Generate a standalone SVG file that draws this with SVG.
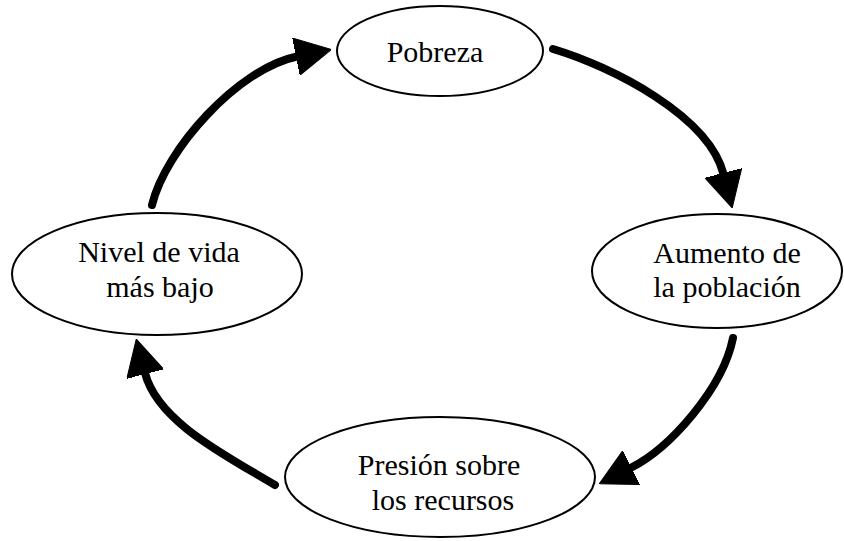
<svg xmlns="http://www.w3.org/2000/svg" width="844" height="541" viewBox="0 0 844 541">
<style>
.node{fill:#fff;stroke:#000;stroke-width:2}
.lbl{font-family:"Liberation Serif","Times New Roman",serif;font-size:30px;fill:#000;text-anchor:middle}
.arr{fill:none;stroke:#000;stroke-width:8;stroke-linecap:round}
</style>
<defs>
<marker id="ah" markerUnits="userSpaceOnUse" viewBox="0 0 36 38" markerWidth="36" markerHeight="38" refX="1" refY="19" orient="auto">
<path d="M0,0 L36,19 L0,38 z" fill="#000" stroke="#000" stroke-width="1" stroke-linejoin="round"/>
</marker>
</defs>
<rect width="844" height="541" fill="#fff"/>
<g id="connectors">
<path class="arr" d="M553,49 C613,67 708.6,116 723.5,174" marker-end="url(#ah)"/>
<path class="arr" d="M733,338 C723,388 670.5,447.8 630.5,468" marker-end="url(#ah)"/>
<path class="arr" d="M275,485 C225,455 157.5,421.5 145,373" marker-end="url(#ah)"/>
<path class="arr" d="M152,205 C165,150 238,68.5 297,56.5" marker-end="url(#ah)"/>
</g>
<g id="pobreza">
<ellipse class="node" cx="440" cy="51" rx="103" ry="45"/>
<text class="lbl" x="435" y="62">Pobreza</text>
</g>
<g id="aumento">
<ellipse class="node" cx="717" cy="271" rx="125" ry="57"/>
<text class="lbl" x="727" y="263">Aumento de</text>
<text class="lbl" x="727" y="297">la población</text>
</g>
<g id="presion">
<ellipse class="node" cx="440" cy="477" rx="155" ry="60"/>
<text class="lbl" x="439" y="475">Presión sobre</text>
<text class="lbl" x="443" y="510">los recursos</text>
</g>
<g id="nivel">
<ellipse class="node" cx="157" cy="274" rx="145" ry="61"/>
<text class="lbl" x="159" y="262">Nivel de vida</text>
<text class="lbl" x="160" y="297">más bajo</text>
</g>
</svg>
